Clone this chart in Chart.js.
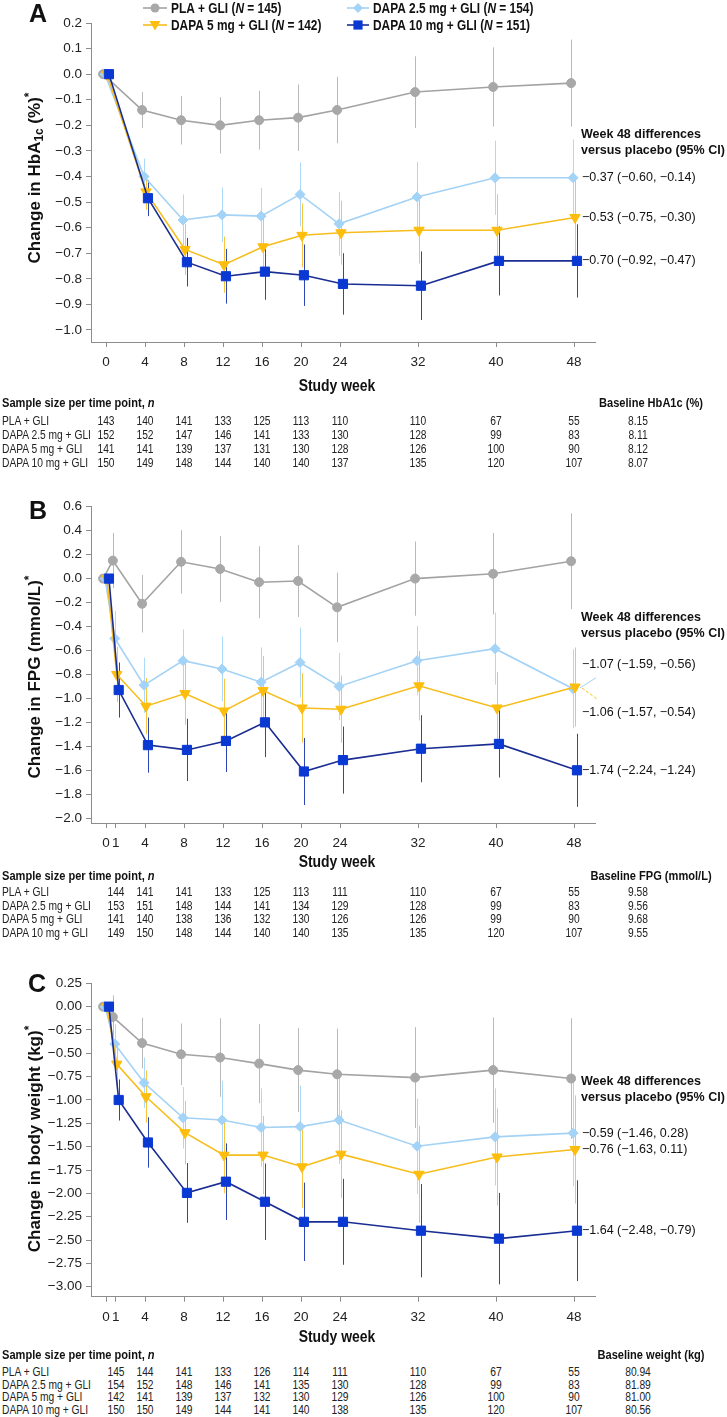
<!DOCTYPE html>
<html>
<head>
<meta charset="utf-8">
<script src="https://cdn.jsdelivr.net/npm/chart.js@4.4.0/dist/chart.umd.min.js"></script>
<style>
  body { margin: 0; background: #fff; }
  #page { position: relative; width: 727px; height: 1417px; overflow: hidden; }
  canvas { position: absolute; left: 0; }
  .t { position: absolute; white-space: nowrap; line-height: 1; color: #222;
       font-family: "Liberation Sans", Arial, sans-serif; font-size: 12.5px; }
  .hd { font-weight: bold; font-size: 13.5px; color: #111; }
  .letter { position: absolute; font-family: "Liberation Sans", Arial, sans-serif; font-weight: bold;
            font-size: 25px; color: #111; transform: translate(-50%, -50%); line-height: 1; }
</style>
</head>
<body>
<div id="page">
  <canvas id="cA" width="727" height="400" style="top:0px"></canvas>
  <canvas id="cB" width="727" height="435" style="top:440px"></canvas>
  <canvas id="cC" width="727" height="410" style="top:940px"></canvas>
  <div class="letter" style="left:38px;top:13px">A</div>
  <div class="letter" style="left:38px;top:510px">B</div>
  <div class="letter" style="left:37px;top:983px">C</div>
</div>
<script>
// ---- data ----
const groupNames = ['PLA + GLI', 'DAPA 2.5 mg + GLI', 'DAPA 5 mg + GLI', 'DAPA 10 mg + GLI'];
const groupN = [145, 154, 142, 151];

const weeksA = [0, 4, 8, 12, 16, 20, 24, 32, 40, 48];
const weeksBC = [0, 1, 4, 8, 12, 16, 20, 24, 32, 40, 48];

// HbA1c change (%)
const hbaPla = [0, -0.14, -0.18, -0.20, -0.18, -0.17, -0.14, -0.07, -0.05, -0.035];
const hbaD25 = [0, -0.40, -0.57, -0.55, -0.555, -0.47, -0.585, -0.48, -0.405, -0.405];
const hbaD5 = [0, -0.46, -0.685, -0.745, -0.675, -0.63, -0.62, -0.61, -0.61, -0.56];
const hbaD10 = [0, -0.485, -0.735, -0.79, -0.772, -0.786, -0.82, -0.827, -0.73, -0.73];
const hbaPlaErr = [0, 0.07, 0.095, 0.11, 0.115, 0.13, 0.13, 0.14, 0.155, 0.17];
const hbaD25Err = [0, 0.07, 0.10, 0.107, 0.11, 0.125, 0.125, 0.137, 0.145, 0.15];
const hbaD5Err = [0, 0.07, 0.10, 0.11, 0.11, 0.125, 0.125, 0.13, 0.14, 0.16];
const hbaD10Err = [0, 0.07, 0.095, 0.107, 0.11, 0.12, 0.12, 0.134, 0.135, 0.143];

// FPG change (mmol/L)
const fpgPla = [0, 0.15, -0.21, 0.14, 0.08, -0.03, -0.02, -0.24, 0.0, 0.04, 0.145];
const fpgD25 = [0, -0.50, -0.89, -0.685, -0.755, -0.865, -0.70, -0.90, -0.685, -0.585, -0.92];
const fpgD5 = [0, -0.80, -1.065, -0.96, -1.105, -0.935, -1.08, -1.09, -0.895, -1.08, -0.905];
const fpgD10 = [0, -0.93, -1.39, -1.43, -1.355, -1.20, -1.61, -1.515, -1.42, -1.38, -1.60];
const fpgPlaErr = [0, 0.23, 0.24, 0.265, 0.275, 0.30, 0.30, 0.29, 0.31, 0.34, 0.40];
const fpgD25Err = [0, 0.23, 0.23, 0.26, 0.27, 0.29, 0.29, 0.28, 0.29, 0.30, 0.33];
const fpgD5Err = [0, 0.23, 0.235, 0.26, 0.27, 0.29, 0.29, 0.28, 0.29, 0.30, 0.33];
const fpgD10Err = [0, 0.23, 0.23, 0.26, 0.26, 0.29, 0.28, 0.28, 0.28, 0.28, 0.305];

// body weight change (kg)
const wtPla = [0, -0.11, -0.39, -0.51, -0.545, -0.61, -0.68, -0.725, -0.76, -0.68, -0.77];
const wtD25 = [0, -0.40, -0.815, -1.19, -1.215, -1.295, -1.285, -1.215, -1.495, -1.395, -1.355];
const wtD5 = [0, -0.615, -0.965, -1.35, -1.59, -1.59, -1.715, -1.58, -1.795, -1.61, -1.53];
const wtD10 = [0, -1.0, -1.455, -1.995, -1.875, -2.09, -2.305, -2.305, -2.40, -2.485, -2.40];
const wtPlaErr = [0, 0.23, 0.27, 0.33, 0.42, 0.425, 0.45, 0.49, 0.54, 0.565, 0.645];
const wtD25Err = [0, 0.21, 0.27, 0.33, 0.42, 0.42, 0.44, 0.47, 0.51, 0.52, 0.57];
const wtD5Err = [0, 0.22, 0.28, 0.34, 0.41, 0.42, 0.44, 0.47, 0.52, 0.52, 0.58];
const wtD10Err = [0, 0.22, 0.27, 0.32, 0.41, 0.41, 0.42, 0.46, 0.50, 0.49, 0.54];

const yTicksA = [0.2, 0.1, 0.0, -0.1, -0.2, -0.3, -0.4, -0.5, -0.6, -0.7, -0.8, -0.9, -1.0];
const yTicksB = [0.6, 0.4, 0.2, 0.0, -0.2, -0.4, -0.6, -0.8, -1.0, -1.2, -1.4, -1.6, -1.8, -2.0];
const yTicksC = [0.25, 0, -0.25, -0.5, -0.75, -1.0, -1.25, -1.5, -1.75, -2.0, -2.25, -2.5, -2.75, -3.0];

const diffA = ['−0.37 (−0.60, −0.14)', '−0.53 (−0.75, −0.30)', '−0.70 (−0.92, −0.47)'];
const diffB = ['−1.07 (−1.59, −0.56)', '−1.06 (−1.57, −0.54)', '−1.74 (−2.24, −1.24)'];
const diffC = ['−0.59 (−1.46, 0.28)', '−0.76 (−1.63, 0.11)', '−1.64 (−2.48, −0.79)'];

// sample sizes per time point
const nColsA = [0, 4, 8, 12, 16, 20, 24, 32, 40, 48];
const nColsBC = [1, 4, 8, 12, 16, 20, 24, 32, 40, 48];
const nHba = [
  [143, 140, 141, 133, 125, 113, 110, 110, 67, 55],
  [152, 152, 147, 146, 141, 133, 130, 128, 99, 83],
  [141, 141, 139, 137, 131, 130, 128, 126, 100, 90],
  [150, 149, 148, 144, 140, 140, 137, 135, 120, 107]
];
const nFpg = [
  [144, 141, 141, 133, 125, 113, 111, 110, 67, 55],
  [153, 151, 148, 144, 141, 134, 129, 128, 99, 83],
  [141, 140, 138, 136, 132, 130, 126, 126, 99, 90],
  [149, 150, 148, 144, 140, 140, 135, 135, 120, 107]
];
const nWt = [
  [145, 144, 141, 133, 126, 114, 111, 110, 67, 55],
  [154, 152, 148, 146, 141, 135, 130, 128, 99, 83],
  [142, 141, 139, 137, 132, 130, 129, 126, 100, 90],
  [150, 150, 149, 144, 141, 140, 138, 135, 120, 107]
];
const baseHba = ['8.15', '8.11', '8.12', '8.07'];
const baseFpg = ['9.58', '9.56', '9.68', '9.55'];
const baseWt = ['80.94', '81.89', '81.00', '80.56'];

// ---- look ----
const SANS = '"Liberation Sans", Arial, sans-serif';
const SQUEEZE = 0.82;   // no condensed face installed, so squeeze the regular one
const AXIS = '#8c8c8c';
const looks = [
  { line: '#a3a3a3', fill: '#a8a8a8', bar: '#b9b9b9', style: 'circle', r: 4.5, rot: 0, dx: -0.3 },
  { line: '#a3d2f5', fill: '#a3d3f7', bar: '#acd9f8', style: 'rectRot', r: 5, rot: 0, dx: -0.1 },
  { line: '#f6bd1c', fill: '#fdbd0c', bar: '#fac53c', style: 'triangle', r: 6, rot: 180, dx: 0.1 },
  { line: '#1a2d92', fill: '#0a38d2', bar: '#2c46b6', style: 'rect', r: 6.5, rot: 0, dx: 0.3 }
];
const X_MIN = -1.54, X_MAX = 50.15;

function fmt(v, dec) {
  return (v < -1e-9 ? '−' : '') + Math.abs(v).toFixed(dec);
}

const errorBars = {
  id: 'errorBars',
  beforeDatasetsDraw(chart) {
    const ctx = chart.ctx, ys = chart.scales.y;
    ctx.save();
    ctx.lineWidth = 1;
    chart.data.datasets.forEach((ds, i) => {
      const meta = chart.getDatasetMeta(i);
      ctx.strokeStyle = ds.barColor;
      meta.data.forEach((pt, j) => {
        const e = ds.err[j];
        if (!e) return;
        const v = ds.data[j].y;
        const x = Math.round(pt.x) + 0.5;
        ctx.beginPath();
        ctx.moveTo(x, ys.getPixelForValue(v + e));
        ctx.lineTo(x, ys.getPixelForValue(v - e));
        ctx.stroke();
      });
    });
    ctx.restore();
  }
};

function drawRuns(ctx, runs, x, y, size, opts) {
  const o = opts || {};
  const fontFor = r => `${r.it ? 'italic ' : ''}bold ${r.sub || r.sup ? size * 0.7 : size}px ${SANS}`;
  let total = 0;
  runs.forEach(r => { ctx.font = fontFor(r); r.w = ctx.measureText(r.t).width; total += r.w; });
  ctx.save();
  ctx.translate(x, y);
  if (o.rotate) ctx.rotate(o.rotate);
  if (o.sx) ctx.scale(o.sx, 1);
  let cx = o.center ? -total / 2 : 0;
  ctx.textBaseline = 'middle';
  ctx.textAlign = 'left';
  ctx.fillStyle = '#111';
  runs.forEach(r => {
    ctx.font = fontFor(r);
    ctx.fillText(r.t, cx, r.sub ? size * 0.3 : r.sup ? -size * 0.3 : 0);
    cx += r.w;
  });
  ctx.restore();
}

function drawMarker(ctx, k, x, y) {
  const L = looks[k];
  ctx.fillStyle = L.fill;
  ctx.beginPath();
  if (L.style === 'circle') {
    ctx.arc(x, y, L.r, 0, Math.PI * 2);
  } else if (L.style === 'rectRot') {
    ctx.moveTo(x, y - L.r); ctx.lineTo(x + L.r, y); ctx.lineTo(x, y + L.r); ctx.lineTo(x - L.r, y);
  } else if (L.style === 'triangle') {
    ctx.moveTo(x - 5.5, y - 4); ctx.lineTo(x + 5.5, y - 4); ctx.lineTo(x, y + 5.5);
  } else {
    ctx.rect(x - 4.6, y - 4.6, 9.2, 9.2);
  }
  ctx.closePath();
  ctx.fill();
}

function decor(p) {
  return {
    id: 'decor',
    afterDraw(chart) {
      const ctx = chart.ctx, ys = chart.scales.y, xs = chart.scales.x;
      ctx.save();
      drawRuns(ctx, p.yTitle, 35, p.yTitleY, 17, { rotate: -Math.PI / 2, center: true });
      drawRuns(ctx, [{ t: 'Study week' }], (xs.left + xs.right) / 2 - 6, p.xTitleY, 17,
               { center: true, sx: SQUEEZE });

      ctx.fillStyle = '#111';
      ctx.textAlign = 'left';
      ctx.textBaseline = 'middle';
      const hy = ys.getPixelForValue(p.headAt);
      ctx.font = 'bold 12.5px ' + SANS;
      ctx.fillText('Week 48 differences', 581, hy);
      ctx.fillText('versus placebo (95% CI)', 581, hy + 16);
      ctx.font = '12.5px ' + SANS;
      p.diffs.forEach((t, i) => ctx.fillText(t, 582, ys.getPixelForValue(p.diffAt[i])));

      if (p.leaders) {
        // small pointers from the overlapping week-48 markers to their labels
        const m1 = chart.getDatasetMeta(1).data.at(-1);
        const m2 = chart.getDatasetMeta(2).data.at(-1);
        ctx.lineWidth = 1;
        ctx.strokeStyle = looks[1].line;
        ctx.beginPath(); ctx.moveTo(m1.x + 7, m1.y - 1); ctx.lineTo(m1.x + 23, m1.y - 11); ctx.stroke();
        ctx.strokeStyle = looks[2].line;
        ctx.setLineDash([3, 2]);
        ctx.beginPath(); ctx.moveTo(m2.x + 7, m2.y + 1); ctx.lineTo(m2.x + 22, m2.y + 12); ctx.stroke();
        ctx.setLineDash([]);
      }

      if (p.legend) {
        const rows = [8, 25], cols = [[143, 167, 171], [347, 369, 373]];
        [[0, 1], [2, 3]].forEach((pair, r) => pair.forEach((k, c) => {
          const [x0, x1, tx] = cols[c];
          const y = rows[r];
          ctx.strokeStyle = looks[k].line;
          ctx.lineWidth = 1.6;
          ctx.beginPath(); ctx.moveTo(x0, y); ctx.lineTo(x1, y); ctx.stroke();
          drawMarker(ctx, k, (x0 + x1) / 2, y);
          drawRuns(ctx, [
            { t: groupNames[k] + ' (' }, { t: 'N', it: true }, { t: ' = ' + groupN[k] + ')' }
          ], tx, y + 0.5, 14.5, { sx: SQUEEZE });
        }));
      }
      ctx.restore();
    }
  };
}

function panel(id, p) {
  const datasets = p.series.map((s, i) => ({
    data: p.weeks.map((w, j) => ({ x: w + looks[i].dx, y: s[j] })),
    err: p.errs[i],
    barColor: looks[i].bar,
    borderColor: looks[i].line,
    backgroundColor: looks[i].fill,
    pointBackgroundColor: looks[i].fill,
    pointBorderColor: looks[i].fill,
    pointBorderWidth: 1,
    pointStyle: looks[i].style,
    pointRadius: looks[i].r,
    pointRotation: looks[i].rot,
    borderWidth: 1.6,
    tension: 0,
    order: 3 - i
  }));
  return new Chart(document.getElementById(id), {
    type: 'line',
    data: { datasets },
    options: {
      responsive: false,
      animation: false,
      events: [],
      layout: { padding: { left: 0, right: 132, top: p.top, bottom: 0 } },
      plugins: { legend: { display: false }, tooltip: { enabled: false } },
      scales: {
        x: {
          type: 'linear', min: X_MIN, max: X_MAX,
          afterBuildTicks: s => { s.ticks = p.xTicks.map(v => ({ value: v })); },
          afterFit: s => { s.height = p.xh; },
          ticks: { autoSkip: false, maxRotation: 0, padding: 7, color: '#222',
                   font: { family: SANS, size: 13.5 }, callback: v => String(v) },
          grid: { drawOnChartArea: false, tickLength: 5, color: AXIS },
          border: { color: AXIS }
        },
        y: {
          min: p.yMin, max: p.yMax,
          afterBuildTicks: s => { s.ticks = p.yTicks.map(v => ({ value: v })); },
          afterFit: s => { s.width = 91; },
          ticks: { padding: 4, color: '#222', font: { family: SANS, size: 13.5 },
                   callback: v => fmt(v, p.dec) },
          grid: { drawOnChartArea: false, tickLength: 5, color: AXIS },
          border: { color: AXIS }
        }
      }
    },
    plugins: [errorBars, decor(p)]
  });
}

const chartA = panel('cA', {
  weeks: weeksA, xTicks: weeksA,
  series: [hbaPla, hbaD25, hbaD5, hbaD10],
  errs: [hbaPlaErr, hbaD25Err, hbaD5Err, hbaD10Err],
  yMin: -1.047, yMax: 0.2, yTicks: yTicksA, dec: 1,
  top: 23, xh: 58, xTitleY: 386,
  yTitle: [{ t: 'Change in HbA' }, { t: '1c', sub: true }, { t: ' (%)' }, { t: '*', sup: true }],
  yTitleY: 178,
  headAt: -0.238, diffs: diffA, diffAt: [hbaD25.at(-1), hbaD5.at(-1), hbaD10.at(-1)],
  legend: true
});

const chartB = panel('cB', {
  weeks: weeksBC, xTicks: weeksBC,
  series: [fpgPla, fpgD25, fpgD5, fpgD10],
  errs: [fpgPlaErr, fpgD25Err, fpgD5Err, fpgD10Err],
  yMin: -2.04, yMax: 0.6, yTicks: yTicksB, dec: 1,
  top: 66.7, xh: 52, xTitleY: 422,
  yTitle: [{ t: 'Change in FPG (mmol/L)' }, { t: '*', sup: true }],
  yTitleY: 237,
  headAt: -0.324, diffs: diffB, diffAt: [-0.72, -1.115, fpgD10.at(-1)],
  leaders: true
});

const chartC = panel('cC', {
  weeks: weeksBC, xTicks: weeksBC,
  series: [wtPla, wtD25, wtD5, wtD10],
  errs: [wtPlaErr, wtD25Err, wtD5Err, wtD10Err],
  yMin: -3.107, yMax: 0.25, yTicks: yTicksC, dec: 2,
  top: 43.3, xh: 53.3, xTitleY: 397,
  yTitle: [{ t: 'Change in body weight (kg)' }, { t: '*', sup: true }],
  yTitleY: 199,
  headAt: -0.804, diffs: diffC, diffAt: [wtD25.at(-1), wtD5.at(-1), wtD10.at(-1)]
});

// ---- sample size tables (HTML text, columns follow the x scale) ----
const page = document.getElementById('page');
function put(html, x, y, cls, align) {
  const d = document.createElement('div');
  d.className = 't ' + (cls || '');
  d.innerHTML = html;
  d.style.left = x + 'px';
  d.style.top = y + 'px';
  if (align === 'center') {
    d.style.transform = `translate(-50%, -50%) scaleX(${SQUEEZE})`;
  } else {
    d.style.transformOrigin = '0 50%';
    d.style.transform = `translateY(-50%) scaleX(${SQUEEZE})`;
  }
  page.appendChild(d);
}
function table(chart, cols, counts, base, baseTitle, headY, rowY, rowGap) {
  const xs = chart.scales.x;
  put('Sample size per time point, <i>n</i>', 2, headY, 'hd');
  put(baseTitle, 651, headY, 'hd', 'center');
  counts.forEach((row, i) => {
    const y = rowY + i * rowGap;
    put(groupNames[i], 2, y);
    row.forEach((n, j) => put(String(n), xs.getPixelForValue(cols[j]), y, '', 'center'));
    put(base[i], 638, y, '', 'center');
  });
}
table(chartA, nColsA, nHba, baseHba, 'Baseline HbA1c (%)', 403, 421, 14);
table(chartB, nColsBC, nFpg, baseFpg, 'Baseline FPG (mmol/L)', 876, 892, 13.6);
table(chartC, nColsBC, nWt, baseWt, 'Baseline weight (kg)', 1355, 1372, 12.7);
</script>
</body>
</html>
